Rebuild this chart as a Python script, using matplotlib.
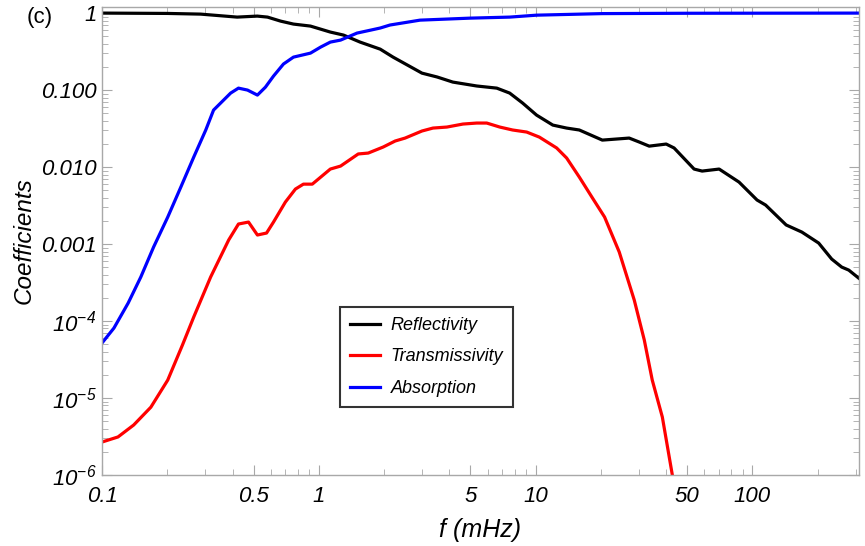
import numpy as np
import matplotlib
matplotlib.use("Agg")
import matplotlib.pyplot as plt
from matplotlib.ticker import FixedLocator, FixedFormatter, NullFormatter

plt.rcParams['font.family'] = ['Liberation Sans', 'DejaVu Sans']
plt.rcParams['mathtext.fontset'] = 'custom'
plt.rcParams['mathtext.rm'] = 'Liberation Sans:italic'
plt.rcParams['mathtext.it'] = 'Liberation Sans:italic'

# Reflectivity
f_R = [0.1, 0.2, 0.285, 0.42, 0.52, 0.58, 0.666, 0.764, 0.915, 1.13, 1.30, 1.55, 1.92, 2.20,
       2.99, 3.51, 4.15, 5.35, 6.62, 7.59, 8.71, 10.1, 12.0, 13.9, 15.9, 20.3, 27.0, 30.1,
       33.4, 40.0, 43.5, 53.8, 58.6, 70.2, 86.7, 105, 115, 143, 169, 202, 232, 258, 278, 309]
R = [1.0, 0.99, 0.97, 0.887, 0.914, 0.887, 0.787, 0.72, 0.678, 0.567, 0.518, 0.42, 0.34, 0.268,
     0.166, 0.148, 0.127, 0.113, 0.106, 0.0914, 0.0678, 0.0473, 0.0351, 0.0321, 0.0303, 0.0224,
     0.0238, 0.0211, 0.0187, 0.0199, 0.0177, 0.00942, 0.00887, 0.00942, 0.00638, 0.00373,
     0.00321, 0.00177, 0.00143, 0.00103, 0.000638, 0.000502, 0.000459, 0.000361]

# Transmissivity
f_T = [0.1, 0.1185, 0.140, 0.168, 0.201, 0.235, 0.265, 0.317, 0.384, 0.426, 0.474, 0.521, 0.574,
       0.618, 0.701, 0.78, 0.849, 0.933, 1.13, 1.26, 1.52, 1.69, 1.98, 2.25, 2.50, 2.99, 3.36,
       3.90, 4.62, 5.35, 5.95, 6.83, 7.83, 9.09, 10.4, 12.5, 13.9, 15.9, 18.3, 20.8, 24.3, 28.5,
       31.7, 34.5, 38.4, 42.7, 45.0]
T = [2.68e-6, 3.12e-6, 4.46e-6, 7.6e-6, 1.71e-5, 4.88e-5, 1.13e-4, 3.73e-4, 1.13e-3, 1.82e-3,
     1.93e-3, 1.31e-3, 1.39e-3, 1.93e-3, 3.51e-3, 5.18e-3, 6.0e-3, 6.0e-3, 9.42e-3, 0.0103,
     0.0148, 0.0152, 0.0182, 0.0218, 0.0238, 0.0294, 0.0321, 0.0331, 0.0362, 0.0373, 0.0373,
     0.0331, 0.0303, 0.0285, 0.0245, 0.0177, 0.0131, 7.41e-3, 3.95e-3, 2.24e-3, 7.87e-4,
     1.87e-4, 5.67e-5, 1.71e-5, 5.66e-6, 1.0e-6, 4.0e-7]

# Absorption
f_A = [0.1, 0.1135, 0.132, 0.151, 0.173, 0.201, 0.231, 0.265, 0.301, 0.327, 0.392, 0.426, 0.469,
       0.521, 0.567, 0.618, 0.687, 0.764, 0.915, 1.02, 1.13, 1.26, 1.50, 1.73, 1.92, 2.13, 2.93,
       4.98, 7.59, 10.1, 20.3, 50.0, 309]
A = [5.18e-5, 8.1e-5, 1.71e-4, 3.73e-4, 9.15e-4, 2.24e-3, 5.5e-3, 0.0135, 0.0303, 0.055, 0.0914,
     0.106, 0.1, 0.0861, 0.109, 0.152, 0.218, 0.268, 0.302, 0.362, 0.42, 0.446, 0.55, 0.60, 0.64,
     0.70, 0.81, 0.86, 0.887, 0.94, 0.985, 0.995, 1.0]

x_ticks = [0.1, 0.5, 1, 5, 10, 50, 100]
x_ticklabels = ['0.1', '0.5', '1', '5', '10', '50', '100']
y_ticks = [1, 0.1, 0.01, 0.001, 1e-4, 1e-5, 1e-6]
y_ticklabels = ['1', '0.100', '0.010', '0.001', r'$10^{-4}$', r'$10^{-5}$', r'$10^{-6}$']

fig = plt.figure(figsize=(8.65, 5.46), dpi=100)
ax = fig.add_axes([102/865, 71/546, 757/865, 468/546])

lw = 2.3
ax.plot(f_R, R, color='black', lw=lw, label='Reflectivity')
ax.plot(f_T, T, color='#ff0000', lw=lw, label='Transmissivity')
ax.plot(f_A, A, color='#0000ff', lw=lw, label='Absorption')

ax.set_xscale('log')
ax.set_yscale('log')
ax.set_xlim(0.1, 310)
ax.set_ylim(1e-6, 1.2)

ax.xaxis.set_major_locator(FixedLocator(x_ticks))
ax.xaxis.set_major_formatter(FixedFormatter(x_ticklabels))
xminor = [m * 10.0**e for e in range(-1, 3) for m in range(1, 10)]
xminor = [v for v in xminor if v not in x_ticks]
ax.xaxis.set_minor_locator(FixedLocator(xminor))
ax.xaxis.set_minor_formatter(NullFormatter())

ax.yaxis.set_major_locator(FixedLocator(y_ticks))
ax.yaxis.set_major_formatter(FixedFormatter(y_ticklabels))
yminor = [m * 10.0**e for e in range(-6, 0) for m in range(2, 10)]
ax.yaxis.set_minor_locator(FixedLocator(yminor))
ax.yaxis.set_minor_formatter(NullFormatter())

frame_col = '#a8a8a8'
for s in ax.spines.values():
    s.set_color(frame_col)
    s.set_linewidth(1.0)
ax.tick_params(which='both', direction='in', top=True, right=True, color=frame_col,
               labelsize=16)
ax.tick_params(which='major', length=7, width=0.8)
ax.tick_params(which='minor', length=4, width=0.6)
for lab in ax.get_xticklabels() + ax.get_yticklabels():
    lab.set_fontstyle('italic')
ax.tick_params(axis='x', pad=8)
ax.tick_params(axis='y', pad=4)

ax.set_xlabel('f (mHz)', fontsize=18, fontstyle='italic', labelpad=8)
ax.set_ylabel('Coefficients', fontsize=17.5, fontstyle='italic', labelpad=4)

fig.text(27/865, 1 - 18/546, '(c)', fontsize=16, va='center', ha='left')

leg = ax.legend(loc='upper left', bbox_to_anchor=((340-102)/757, (475-307)/468),
                fontsize=13, frameon=True, fancybox=False, handlelength=1.65,
                borderpad=0.55, labelspacing=0.8, handletextpad=0.6, borderaxespad=0)
leg.get_frame().set_edgecolor('black')
leg.get_frame().set_linewidth(1.5)
for t in leg.get_texts():
    t.set_fontstyle('italic')

fig.savefig('out.png', dpi=100)
